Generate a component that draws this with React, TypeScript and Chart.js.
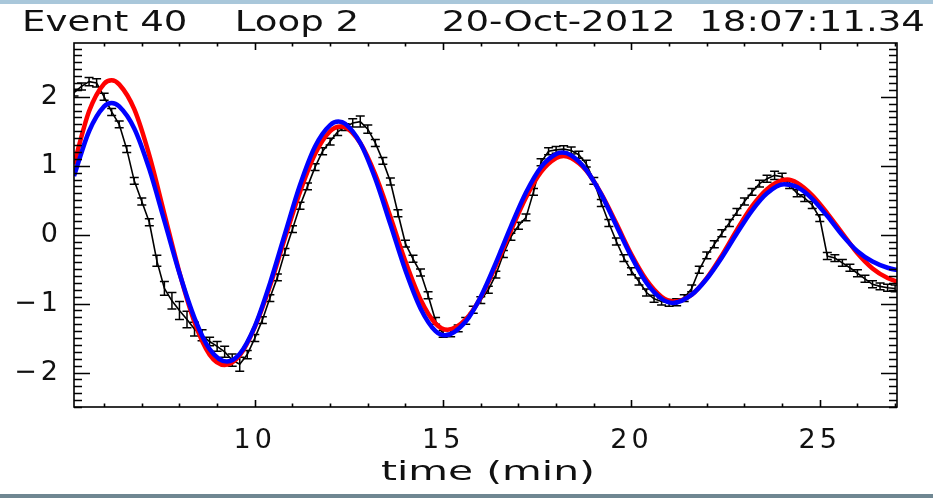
import { useEffect, useRef } from "react";
import { Chart, registerables } from "chart.js";

Chart.register(...registerables);

const titleText = "Event 40    Loop 2       20-Oct-2012  18:07:11.34";
const xAxisTitle = "time (min)";
const xMajorTicks = [10, 15, 20, 25];
const yMajorTicks = [-2, -1, 0, 1, 2];

const dataTime = [
  5.2, 5.4, 5.6, 5.8, 6.0, 6.2, 6.4, 6.6, 6.8, 7.0,
  7.2, 7.4, 7.6, 7.8, 8.0, 8.2, 8.4, 8.6, 8.8, 9.0,
  9.2, 9.4, 9.6, 9.8, 10.0, 10.2, 10.4, 10.6, 10.8, 11.0,
  11.2, 11.4, 11.6, 11.8, 12.0, 12.2, 12.4, 12.6, 12.8, 13.0,
  13.2, 13.4, 13.6, 13.8, 14.0, 14.2, 14.4, 14.6, 14.8, 15.0,
  15.2, 15.4, 15.6, 15.8, 16.0, 16.2, 16.4, 16.6, 16.8, 17.0,
  17.2, 17.4, 17.6, 17.8, 18.0, 18.2, 18.4, 18.6, 18.8, 19.0,
  19.2, 19.4, 19.6, 19.8, 20.0, 20.2, 20.4, 20.6, 20.8, 21.0,
  21.2, 21.4, 21.6, 21.8, 22.0, 22.2, 22.4, 22.6, 22.8, 23.0,
  23.2, 23.4, 23.6, 23.8, 24.0, 24.2, 24.4, 24.6, 24.8, 25.0,
  25.2, 25.4, 25.6, 25.8, 26.0, 26.2, 26.4, 26.6, 26.8, 27.0,
];

const dataValue = [
  2.06, 2.15, 2.22, 2.2, 2.0, 1.78, 1.6, 1.24, 0.78, 0.48,
  0.18, -0.38, -0.78, -0.96, -1.1, -1.23, -1.37, -1.46, -1.55, -1.62,
  -1.7, -1.82, -1.88, -1.74, -1.5, -1.24, -0.92, -0.62, -0.25, 0.08,
  0.42, 0.7, 0.98, 1.21, 1.35, 1.49, 1.56, 1.62, 1.64, 1.53,
  1.33, 1.07, 0.77, 0.31, -0.13, -0.35, -0.55, -0.88, -1.25, -1.44,
  -1.43, -1.36, -1.25, -1.09, -0.95, -0.8, -0.58, -0.28, -0.03, 0.13,
  0.25, 0.62, 1.05, 1.21, 1.23, 1.24, 1.22, 1.16, 1.03, 0.78,
  0.46, 0.17, -0.1, -0.34, -0.53, -0.68, -0.84, -0.93, -0.97, -0.99,
  -0.98, -0.92, -0.78, -0.51, -0.3, -0.14, 0.02, 0.17, 0.33, 0.48,
  0.62, 0.74, 0.81, 0.86, 0.84, 0.72, 0.6, 0.53, 0.43, 0.24,
  -0.31, -0.34, -0.41, -0.48, -0.56, -0.64, -0.72, -0.75, -0.77, -0.78,
];

const dataError = [
  0.05, 0.05, 0.06, 0.06, 0.05, 0.05, 0.05, 0.05, 0.05, 0.05,
  0.05, 0.08, 0.1, 0.12, 0.13, 0.12, 0.1, 0.08, 0.06, 0.07,
  0.08, 0.09, 0.1, 0.06, 0.05, 0.05, 0.05, 0.05, 0.05, 0.05,
  0.05, 0.05, 0.05, 0.05, 0.05, 0.05, 0.05, 0.06, 0.08, 0.06,
  0.05, 0.05, 0.05, 0.05, 0.05, 0.05, 0.05, 0.05, 0.05, 0.05,
  0.05, 0.05, 0.05, 0.05, 0.05, 0.05, 0.05, 0.05, 0.05, 0.05,
  0.05, 0.05, 0.05, 0.05, 0.05, 0.05, 0.05, 0.05, 0.05, 0.05,
  0.05, 0.05, 0.05, 0.05, 0.05, 0.05, 0.05, 0.05, 0.05, 0.05,
  0.05, 0.05, 0.05, 0.05, 0.05, 0.05, 0.05, 0.05, 0.05, 0.05,
  0.05, 0.05, 0.05, 0.06, 0.05, 0.05, 0.05, 0.05, 0.05, 0.05,
  0.05, 0.05, 0.05, 0.05, 0.05, 0.05, 0.05, 0.05, 0.05, 0.05,
];

const redTime = [
  5.2, 5.6, 6.0, 6.2, 6.4, 6.8, 7.2, 7.6, 8.0, 8.4,
  8.8, 9.2, 9.6, 10.0, 10.4, 10.8, 11.2, 11.6, 12.0, 12.28,
  12.4, 12.8, 13.2, 13.6, 14.0, 14.4, 14.8, 15.12, 15.6, 16.0,
  16.4, 16.8, 17.2, 17.6, 18.0, 18.2, 18.4, 18.8, 19.2, 19.6,
  20.0, 20.4, 20.8, 21.13, 21.6, 22.0, 22.4, 22.8, 23.2, 23.6,
  24.0, 24.14, 24.4, 24.8, 25.2, 25.6, 26.0, 26.4, 26.8, 27.2,
];
const redValue = [
  1.02, 1.79, 2.19, 2.24, 2.18, 1.82, 1.15, 0.3, -0.55, -1.27,
  -1.74, -1.89, -1.75, -1.34, -0.75, -0.05, 0.62, 1.17, 1.5, 1.57,
  1.56, 1.33, 0.87, 0.26, -0.39, -0.94, -1.29, -1.38, -1.23, -0.91,
  -0.45, 0.06, 0.54, 0.91, 1.11, 1.14, 1.11, 0.93, 0.59, 0.16,
  -0.29, -0.66, -0.9, -0.97, -0.87, -0.63, -0.3, 0.07, 0.41, 0.66,
  0.79, 0.8, 0.75, 0.57, 0.31, 0.02, -0.27, -0.49, -0.63, -0.71,
];

const blueTime = [
  5.2, 5.6, 6.0, 6.2, 6.4, 6.8, 7.2, 7.6, 8.0, 8.4,
  8.8, 9.26, 9.6, 10.0, 10.4, 10.8, 11.2, 11.6, 12.0, 12.22,
  12.4, 12.8, 13.2, 13.6, 14.0, 14.4, 14.8, 15.05, 15.6, 16.0,
  16.4, 16.8, 17.2, 17.6, 18.0, 18.16, 18.4, 18.8, 19.2, 19.6,
  20.0, 20.4, 20.8, 21.1, 21.6, 22.0, 22.4, 22.8, 23.2, 23.6,
  24.05, 24.4, 24.8, 25.2, 25.6, 26.0, 26.4, 26.8, 27.2,
];
const blueValue = [
  0.85, 1.5, 1.86, 1.91, 1.86, 1.54, 0.95, 0.2, -0.56, -1.21,
  -1.66, -1.84, -1.73, -1.33, -0.71, 0.01, 0.72, 1.28, 1.59, 1.64,
  1.61, 1.33, 0.81, 0.15, -0.52, -1.07, -1.4, -1.46, -1.26, -0.9,
  -0.41, 0.12, 0.61, 0.98, 1.17, 1.19, 1.15, 0.94, 0.58, 0.13,
  -0.32, -0.7, -0.93, -0.99, -0.87, -0.64, -0.33, 0.02, 0.35, 0.6,
  0.73, 0.69, 0.52, 0.27, -0.01, -0.24, -0.39, -0.48, -0.53,
];

const FONT = '"DejaVu Sans", "Liberation Sans", sans-serif';

function drawStretched(ctx: any, text: string, x: number, y: number, size: number, width: number) {
  ctx.save();
  ctx.font = `${size}px ${FONT}`;
  ctx.letterSpacing = "0px";
  ctx.textAlign = "left";
  ctx.textBaseline = "alphabetic";
  const w = ctx.measureText(text).width;
  ctx.translate(x, y);
  ctx.scale(width / w, 1);
  ctx.fillText(text, 0, 0);
  ctx.restore();
}

export default function App() {
  const ref = useRef<HTMLCanvasElement>(null);

  useEffect(() => {
    const canvas = ref.current;
    if (!canvas) return;

    const framePlugin = {
      id: "idlFrame",
      beforeDraw(chart: any) {
        chart.ctx.letterSpacing = "4px";
      },
      afterDatasetDraw(chart: any, args: any) {
        if (args.index !== 0) return;
        const ctx = chart.ctx;
        const xs = chart.scales.x;
        const ys = chart.scales.y;
        const area = chart.chartArea;
        ctx.save();
        ctx.beginPath();
        ctx.rect(area.left, area.top, area.right - area.left, area.bottom - area.top);
        ctx.clip();
        ctx.strokeStyle = "#000";
        ctx.lineWidth = 1.5;
        const cap = 4.5;
        ctx.beginPath();
        for (let i = 0; i < dataTime.length; i++) {
          const px = xs.getPixelForValue(dataTime[i]);
          const y1 = ys.getPixelForValue(dataValue[i] - dataError[i]);
          const y2 = ys.getPixelForValue(dataValue[i] + dataError[i]);
          ctx.moveTo(px, y1);
          ctx.lineTo(px, y2);
          ctx.moveTo(px - cap, y1);
          ctx.lineTo(px + cap, y1);
          ctx.moveTo(px - cap, y2);
          ctx.lineTo(px + cap, y2);
        }
        ctx.stroke();
        ctx.restore();
      },
      afterDraw(chart: any) {
        const ctx = chart.ctx;
        ctx.letterSpacing = "0px";
        const xs = chart.scales.x;
        const ys = chart.scales.y;
        const { left, right, top, bottom } = chart.chartArea;
        ctx.save();
        ctx.strokeStyle = "#000";
        ctx.lineWidth = 1.6;
        ctx.strokeRect(left, top, right - left, bottom - top);
        ctx.beginPath();
        for (let v = 6; v <= 27; v += 1) {
          const px = Math.round(xs.getPixelForValue(v)) + 0.5;
          const len = v % 5 === 0 ? 7 : 3.5;
          ctx.moveTo(px, bottom);
          ctx.lineTo(px, bottom - len);
          ctx.moveTo(px, top);
          ctx.lineTo(px, top + len);
        }
        for (let k = -25; k <= 27; k++) {
          const v = k / 10;
          const py = Math.round(ys.getPixelForValue(v)) + 0.5;
          const len = k % 10 === 0 ? 16 : 8;
          ctx.moveTo(left, py);
          ctx.lineTo(left + len, py);
          ctx.moveTo(right, py);
          ctx.lineTo(right - len, py);
        }
        ctx.stroke();
        ctx.fillStyle = "#111";
        drawStretched(ctx, titleText, 22, 31, 28, 903);
        drawStretched(ctx, xAxisTitle, 381, 480, 27, 214);
        ctx.restore();
      },
    };

    const chart = new Chart(canvas, {
      type: "line",
      data: {
        datasets: [
          {
            label: "observed",
            data: dataTime.map((t, i) => ({ x: t, y: dataValue[i] })),
            borderColor: "#000",
            borderWidth: 1.6,
            pointRadius: 0,
            tension: 0,
            order: 3,
          },
          {
            label: "fit 1",
            data: redTime.map((t, i) => ({ x: t, y: redValue[i] })),
            borderColor: "#ff0000",
            borderWidth: 4.5,
            pointRadius: 0,
            cubicInterpolationMode: "monotone",
            order: 2,
          },
          {
            label: "fit 2",
            data: blueTime.map((t, i) => ({ x: t, y: blueValue[i] })),
            borderColor: "#0000ff",
            borderWidth: 4.5,
            pointRadius: 0,
            cubicInterpolationMode: "monotone",
            order: 1,
          },
        ],
      },
      options: {
        responsive: false,
        animation: false,
        events: [],
        layout: { padding: { top: 43, right: 36, left: 0, bottom: 0 } },
        plugins: {
          legend: { display: false },
          tooltip: { enabled: false },
          title: { display: false },
        },
        scales: {
          x: {
            type: "linear",
            min: 5.2,
            max: 27.05,
            grid: { display: false, drawTicks: false },
            border: { display: false },
            ticks: {
              font: { family: FONT, size: 27 },
              color: "#111",
              padding: 18,
              maxRotation: 0,
              autoSkip: false,
            },
            afterBuildTicks: (s: any) => {
              s.ticks = xMajorTicks.map((v) => ({ value: v }));
            },
            afterFit: (s: any) => {
              s.height = 91;
            },
          },
          y: {
            type: "linear",
            min: -2.5,
            max: 2.78,
            grid: { display: false, drawTicks: false },
            border: { display: false },
            ticks: {
              font: { family: FONT, size: 27 },
              color: "#111",
              padding: 12,
              callback: (v: any) => (v < 0 ? "\u2212" + Math.abs(v) : String(v)),
            },
            afterBuildTicks: (s: any) => {
              s.ticks = yMajorTicks.map((v) => ({ value: v }));
            },
            afterFit: (s: any) => {
              s.width = 74;
            },
          },
        },
      },
      plugins: [framePlugin],
    });

    return () => chart.destroy();
  }, []);

  return (
    <div
      style={{
        position: "fixed",
        left: 0,
        top: 0,
        width: 933,
        height: 498,
        background: "#fff",
        overflow: "hidden",
      }}
    >
      <div style={{ position: "absolute", left: 0, top: 0, width: 933, height: 4, background: "#a9c7da" }} />
      <canvas ref={ref} width={933} height={498} style={{ position: "absolute", left: 0, top: 0, display: "block" }} />
      <div style={{ position: "absolute", left: 0, top: 494, width: 933, height: 4, background: "#6f8792" }} />
    </div>
  );
}
